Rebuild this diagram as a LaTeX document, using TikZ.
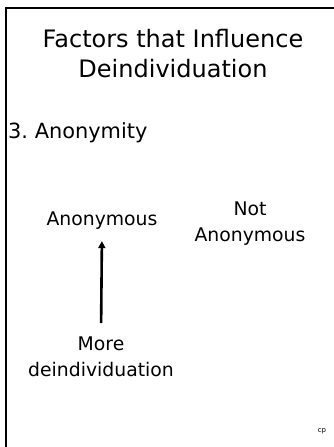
\documentclass[tikz,border=0pt]{standalone}
\usepackage{fontspec}
\setmainfont{DejaVu Sans}
\usetikzlibrary{arrows.meta}
\begin{document}
\begin{tikzpicture}[x=1pt,y=-1pt,
  lbl/.style={inner sep=0pt,anchor=base,font=\fontsize{18.8}{22}\selectfont},
  edge/.style={line width=2.6pt,-{Triangle[length=7pt,width=7pt]}}]
\useasboundingbox (0,0) rectangle (333,447);
\draw[line width=2.8pt] (6,448) -- (6,8) -- (334,8);
\node[inner sep=0pt,anchor=base,align=center,font=\fontsize{24}{30.5}\selectfont] (title) at (173,77.5) {Factors that Influence\\Deindividuation};
\node[inner sep=0pt,anchor=base west,font=\fontsize{20.9}{25}\selectfont] (item) at (8,138) {3.\ Anonymity};
\node[lbl] (anon) at (102,225) {Anonymous};
\node[lbl,align=center,font=\fontsize{18.8}{26}\selectfont] (notanon) at (250,241) {Not\\Anonymous};
\node[lbl,align=center,font=\fontsize{18.8}{26}\selectfont] (more) at (101,376) {More\\deindividuation};
\node[inner sep=0pt,anchor=base,font=\fontsize{7}{8}\selectfont] (cp) at (322,432) {cp};
\draw[edge,shorten <=13pt,shorten >=12pt] (more.north) -- (anon.south);
\end{tikzpicture}
\end{document}
